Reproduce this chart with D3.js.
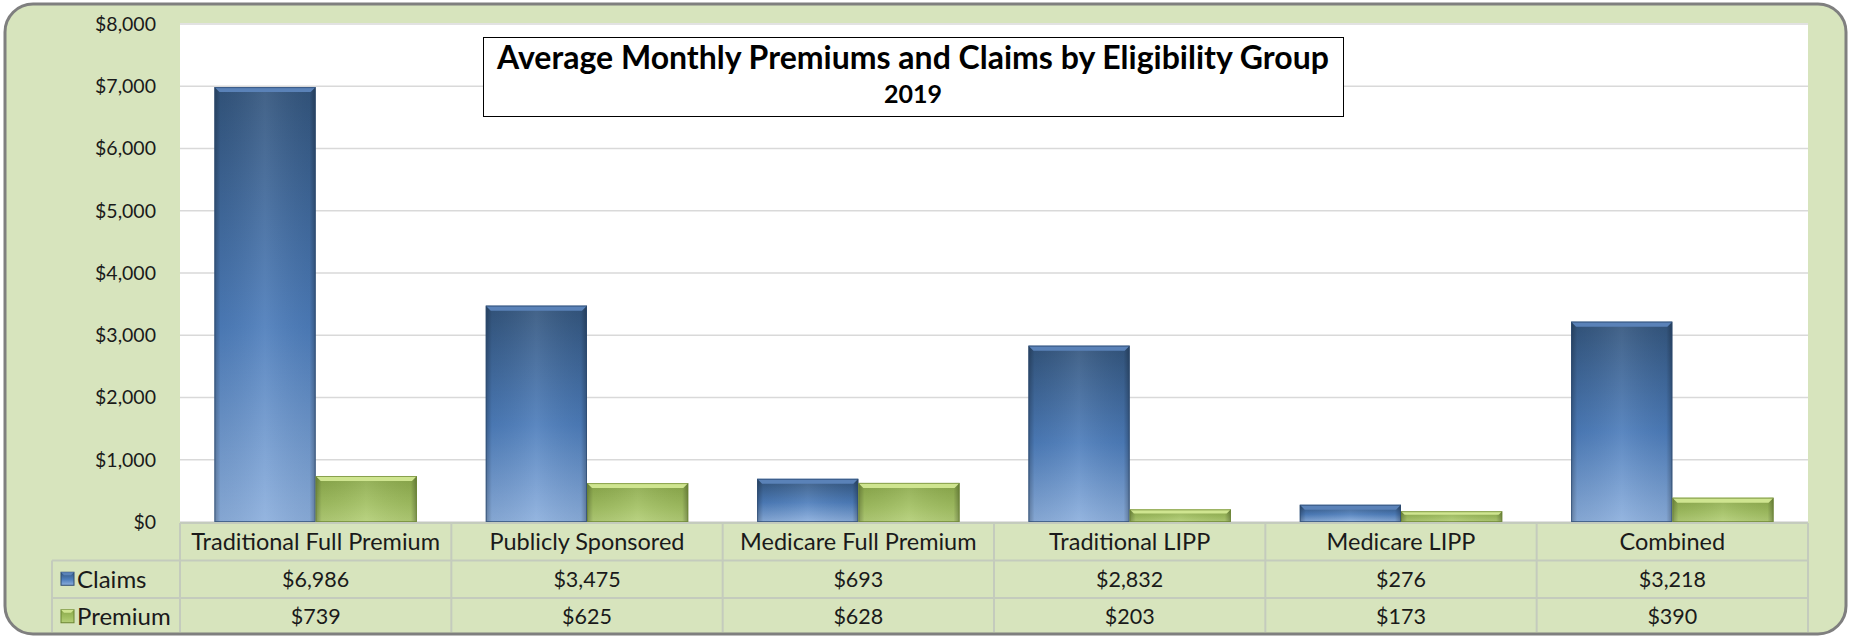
<!DOCTYPE html>
<html>
<head>
<meta charset="utf-8">
<script src="https://cdn.jsdelivr.net/npm/d3@7"></script>
<style>
  html, body { margin: 0; padding: 0; background: #fff; }
  svg { display: block; font-family: Lato, "Open Sans", sans-serif; }
</style>
</head>
<body>
<div id="chart"></div>
<script>
var categories = ['Traditional Full Premium', 'Publicly Sponsored', 'Medicare Full Premium', 'Traditional LIPP', 'Medicare LIPP', 'Combined'];
var seriesNames = ['Claims', 'Premium'];
var claims  = [6986, 3475, 693, 2832, 276, 3218];
var premium = [739, 625, 628, 203, 173, 390];
var yTicks  = [0, 1000, 2000, 3000, 4000, 5000, 6000, 7000, 8000];
var titleText = 'Average Monthly Premiums and Claims by Eligibility Group';
var subTitle  = '2019';

(function () {
    var W = 1851, H = 637;
    var plotLeft = 180, plotRight = 1808, plotTop = 23, plotBottom = 522;
    var rowH = 37.5;
    var tableLeft = 52;
    var fmt = d3.format('$,.0f');

    var svg = d3.select('#chart').append('svg')
        .attr('width', W).attr('height', H)
        .attr('viewBox', '0 0 ' + W + ' ' + H);

    var defs = svg.append('defs');

    // Verläufe für die abgeschrägten Balken
    var blue = defs.append('linearGradient').attr('id', 'gBlue')
        .attr('x1', 0).attr('y1', 0).attr('x2', 0).attr('y2', 1);
    blue.append('stop').attr('offset', '0%').attr('stop-color', '#33557d');
    blue.append('stop').attr('offset', '55%').attr('stop-color', '#4d7dbb');
    blue.append('stop').attr('offset', '100%').attr('stop-color', '#8cafdd');

    var green = defs.append('linearGradient').attr('id', 'gGreen')
        .attr('x1', 0).attr('y1', 0).attr('x2', 0).attr('y2', 1);
    green.append('stop').attr('offset', '0%').attr('stop-color', '#8aa84a');
    green.append('stop').attr('offset', '60%').attr('stop-color', '#a2c062');
    green.append('stop').attr('offset', '100%').attr('stop-color', '#b4cf78');

    var sides = defs.append('linearGradient').attr('id', 'gSides')
        .attr('x1', 0).attr('y1', 0).attr('x2', 1).attr('y2', 0);
    sides.append('stop').attr('offset', '0%').attr('stop-color', '#000').attr('stop-opacity', 0.28);
    sides.append('stop').attr('offset', '6%').attr('stop-color', '#000').attr('stop-opacity', 0.05);
    sides.append('stop').attr('offset', '50%').attr('stop-color', '#fff').attr('stop-opacity', 0.08);
    sides.append('stop').attr('offset', '94%').attr('stop-color', '#000').attr('stop-opacity', 0.05);
    sides.append('stop').attr('offset', '100%').attr('stop-color', '#000').attr('stop-opacity', 0.3);

    var fills = { Claims: 'url(#gBlue)', Premium: 'url(#gGreen)' };
    var bevelTop = { Claims: '#5a82b8', Premium: '#cfe590' };
    var edgeCol = { Claims: '#2c4a70', Premium: '#6b8532' };

    // Rahmen
    svg.append('rect')
        .attr('x', 5).attr('y', 4).attr('width', 1841).attr('height', 630)
        .attr('rx', 28).attr('ry', 28)
        .attr('fill', '#d7e4bd')
        .attr('stroke', '#7f7f7f').attr('stroke-width', 3);

    // Zeichenfläche
    svg.append('rect')
        .attr('x', plotLeft).attr('y', plotTop)
        .attr('width', plotRight - plotLeft).attr('height', plotBottom - plotTop)
        .attr('fill', '#fff');

    var y = d3.scaleLinear().domain([0, 8000]).range([plotBottom, plotTop + 1]);
    var x0 = d3.scaleBand().domain(categories).range([plotLeft, plotRight]);
    var x1 = d3.scaleBand().domain(seriesNames).range([0, x0.bandwidth()])
        .paddingInner(0).paddingOuter(0.34);

    // Gitterlinien
    svg.append('g').selectAll('line').data(yTicks).join('line')
        .attr('x1', plotLeft).attr('x2', plotRight)
        .attr('y1', function (d) { return y(d); })
        .attr('y2', function (d) { return y(d); })
        .attr('stroke', '#d9d9d9').attr('stroke-width', 1.5);

    // y-Achse
    var yAxis = d3.axisLeft(y).tickValues(yTicks).tickFormat(fmt).tickSize(0).tickPadding(0);
    var ya = svg.append('g').attr('transform', 'translate(156,0)').call(yAxis);
    ya.select('.domain').remove();
    ya.selectAll('text')
        .attr('font-size', 19.5).attr('fill', '#1a1a1a')
        .attr('font-family', 'Lato, sans-serif');

    // Balken
    var rows = categories.map(function (c, i) {
        return { cat: c, values: [{ s: 'Claims', v: claims[i] }, { s: 'Premium', v: premium[i] }] };
    });

    var groups = svg.append('g').selectAll('g').data(rows).join('g')
        .attr('transform', function (d) { return 'translate(' + x0(d.cat) + ',0)'; });

    groups.each(function (d) {
        var g = d3.select(this);
        d.values.forEach(function (b) {
            var bx = x1(b.s), bw = x1.bandwidth();
            var by = y(b.v), bh = plotBottom - by;
            var bev = Math.min(5, bh / 3);
            var bar = g.append('g');
            bar.append('rect')
                .attr('x', bx).attr('y', by).attr('width', bw).attr('height', bh)
                .attr('fill', fills[b.s]);
            bar.append('rect')
                .attr('x', bx).attr('y', by).attr('width', bw).attr('height', bh)
                .attr('fill', 'url(#gSides)');
            bar.append('polygon')
                .attr('points', [[bx, by], [bx + bw, by], [bx + bw - bev, by + bev], [bx + bev, by + bev]].join(' '))
                .attr('fill', bevelTop[b.s]);
            bar.append('rect')
                .attr('x', bx + 0.5).attr('y', by + 0.5).attr('width', bw - 1).attr('height', bh - 1)
                .attr('fill', 'none').attr('stroke', edgeCol[b.s]).attr('stroke-width', 1).attr('stroke-opacity', 0.7);
            bar.append('title').text(b.s + ': ' + fmt(b.v));
        });
    });

    // Datentabelle
    var tTop = plotBottom + 1;
    var tbl = svg.append('g');
    var lineCol = '#c4cbbd';
    var colEdges = categories.map(function (c) { return x0(c); }).concat([plotRight]);

    tbl.append('line')
        .attr('x1', plotLeft).attr('x2', plotRight).attr('y1', tTop).attr('y2', tTop)
        .attr('stroke', lineCol).attr('stroke-width', 2);
    [1, 2].forEach(function (r) {
        tbl.append('line')
            .attr('x1', tableLeft).attr('x2', plotRight)
            .attr('y1', tTop + r * rowH).attr('y2', tTop + r * rowH)
            .attr('stroke', lineCol).attr('stroke-width', 2);
    });
    tbl.selectAll('line.v').data(colEdges).join('line')
        .attr('class', 'v')
        .attr('x1', function (d) { return d; }).attr('x2', function (d) { return d; })
        .attr('y1', tTop).attr('y2', 632)
        .attr('stroke', lineCol).attr('stroke-width', 2);
    tbl.append('line')
        .attr('x1', tableLeft).attr('x2', tableLeft).attr('y1', tTop + rowH).attr('y2', 632)
        .attr('stroke', lineCol).attr('stroke-width', 2);

    // Kategoriezeile
    tbl.selectAll('text.cat').data(categories).join('text')
        .attr('class', 'cat')
        .attr('x', function (d) { return x0(d) + x0.bandwidth() / 2; })
        .attr('y', tTop + rowH / 2)
        .attr('dy', '0.35em')
        .attr('text-anchor', 'middle')
        .attr('font-size', 23.5).attr('fill', '#1a1a1a')
        .text(function (d) { return d; });

    // Wertezeilen
    [claims, premium].forEach(function (vals, r) {
        var cy = tTop + (r + 1) * rowH + rowH / 2;
        var s = seriesNames[r];
        tbl.append('rect')
            .attr('x', 61).attr('y', cy - 7).attr('width', 13).attr('height', 13)
            .attr('fill', fills[s]).attr('stroke', edgeCol[s]).attr('stroke-width', 1);
        tbl.append('polygon')
            .attr('points', [[61, cy - 7], [74, cy - 7], [71, cy - 4], [64, cy - 4]].join(' '))
            .attr('fill', bevelTop[s]);
        tbl.append('text')
            .attr('x', 77).attr('y', cy).attr('dy', '0.35em')
            .attr('font-size', 24).attr('fill', '#1a1a1a')
            .text(s);
        tbl.selectAll('text.v' + r).data(vals).join('text')
            .attr('class', 'v' + r)
            .attr('x', function (d, i) { return x0(categories[i]) + x0.bandwidth() / 2; })
            .attr('y', cy).attr('dy', '0.35em')
            .attr('text-anchor', 'middle')
            .attr('font-size', 21.5).attr('fill', '#1a1a1a')
            .text(function (d) { return fmt(d); });
    });

    // Titelkasten
    var tb = svg.append('g');
    tb.append('rect')
        .attr('x', 483.5).attr('y', 37.5).attr('width', 860).attr('height', 79)
        .attr('fill', '#fff').attr('stroke', '#000').attr('stroke-width', 1);
    tb.append('text')
        .attr('x', 913).attr('y', 58).attr('dy', '0.35em')
        .attr('text-anchor', 'middle')
        .attr('font-size', 32).attr('font-weight', 'bold').attr('fill', '#000')
        .text(titleText);
    tb.append('text')
        .attr('x', 913).attr('y', 94).attr('dy', '0.35em')
        .attr('text-anchor', 'middle')
        .attr('font-size', 25).attr('font-weight', 'bold').attr('fill', '#000')
        .text(subTitle);
})();
</script>
</body>
</html>
